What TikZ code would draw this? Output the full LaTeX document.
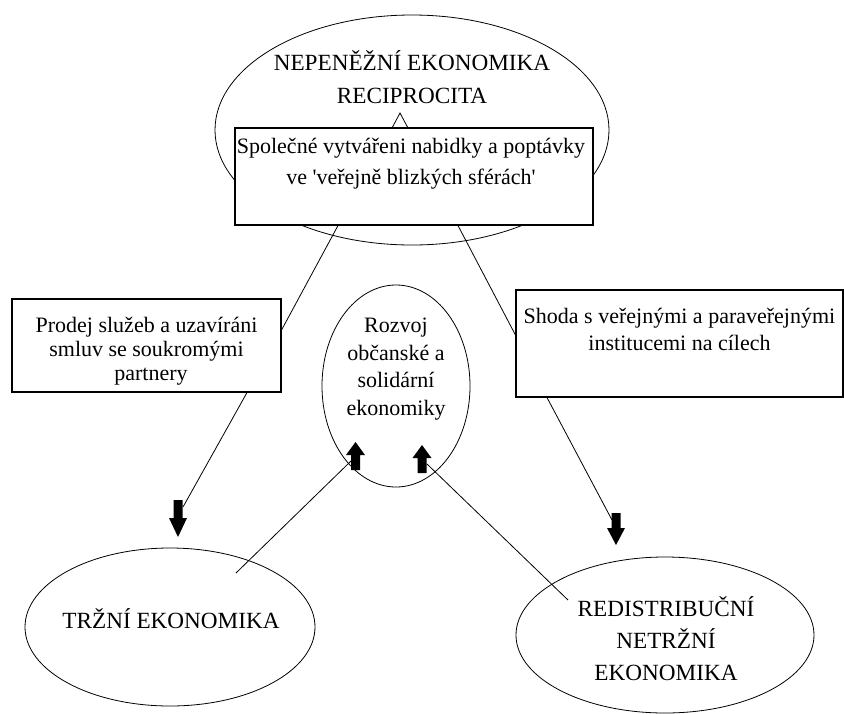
\documentclass[tikz,border=0pt]{standalone}
\usepackage{fontspec}
\setmainfont{Liberation Serif}
\usetikzlibrary{shapes.geometric}
\begin{document}
\begin{tikzpicture}[x=1pt, y=-1pt, line width=0.8pt,
    oval/.style={draw, ellipse, inner sep=0pt},
    box/.style={draw, rectangle, fill=white, line width=1.1pt, inner sep=0pt},
    txt/.style={align=center, inner sep=0pt, font=\fontsize{22}{#1}\selectfont},
    txt/.default=27,
    caps/.style={align=center, inner sep=0pt, font=\fontsize{23.2}{#1}\selectfont},
    caps/.default=27]
  \useasboundingbox (0,0) rectangle (844,713);

  \node[oval, minimum width=394pt, minimum height=230pt] (nepen) at (412,130) {};
  \node[caps=33] (nepentxt) at (412,77) {NEPENĚŽNÍ EKONOMIKA\\RECIPROCITA};
  \draw (392,128) -- (400,113) -- (408,128);
  \node[box, minimum width=358pt, minimum height=97pt] (spol) at (414,176.5) {};
  \node[txt=31] (spoltxt) at (411,164) {Společné vytvářeni nabidky a poptávky\\ve \textquotesingle veřejně blizkých sférách\textquotesingle};

  \node[box, minimum width=269pt, minimum height=93pt] (prodej) at (146.5,345.5) {};
  \node[txt=24] (prodejtxt) at (146.5,351) {Prodej služeb a uzavíráni\\smluv se soukromými\hspace*{28pt}\\\hspace*{9pt}partnery};

  \node[box, minimum width=327pt, minimum height=107pt] (shoda) at (679.5,343.5) {};
  \node[txt=27] (shodatxt) at (679.5,329) {Shoda s veřejnými a paraveřejnými\\institucemi na cílech};

  \node[oval, minimum width=148pt, minimum height=202pt] (rozvoj) at (396,386) {};
  \node[txt=27.5] (rozvojtxt) at (396,369) {Rozvoj\\občanské a\\solidární\\ekonomiky};

  \node[oval, minimum width=290pt, minimum height=158pt] (trzni) at (170,627) {};
  \node[caps] (trznitxt) at (171,619) {TRŽNÍ EKONOMIKA};

  \node[oval, minimum width=298pt, minimum height=156pt] (redis) at (665,635) {};
  \node[caps=32] (redistxt) at (666,639) {REDISTRIBUČNÍ\\NETRŽNÍ\\EKONOMIKA};

  \coordinate (dnl) at (178,500);
  \coordinate (dnr) at (616,513);
  \coordinate (upl) at (355.5,470);
  \coordinate (upr) at (422,473);
  \fill (dnl) ++(-4.5,0) -- ++(0,18) -- ++(-4.5,0) -- ++(9,19) -- ++(9,-19)
    -- ++(-4.5,0) -- ++(0,-18) -- cycle;
  \fill (dnr) ++(-4.5,0) -- ++(0,15) -- ++(-4.5,0) -- ++(9,17) -- ++(9,-17)
    -- ++(-4.5,0) -- ++(0,-15) -- cycle;
  \fill (upl) ++(-4.5,0) -- ++(0,-15) -- ++(-5,0) -- ++(9.5,-13) -- ++(9.5,13)
    -- ++(-5,0) -- ++(0,15) -- cycle;
  \fill (upr) ++(-4.5,0) -- ++(0,-15) -- ++(-5,0) -- ++(9.5,-13) -- ++(9.5,13)
    -- ++(-5,0) -- ++(0,15) -- cycle;

  \coordinate (dnlend) at (183,507);
  \coordinate (dnrend) at (612,520);
  \coordinate (uplend) at (351,461);
  \coordinate (uprend) at (427,464);
  \coordinate (trzniend) at (236,573);
  \coordinate (redisend) at (568,600);

  \draw ([xshift=-76pt]spol.south) -- ([yshift=15.5pt]prodej.east);
  \draw ([xshift=44pt]spol.south) -- ([yshift=8.5pt]shoda.west);
  \draw ([xshift=100.5pt]prodej.south) -- (dnlend);
  \draw ([xshift=-132.5pt]shoda.south) -- (dnrend);
  \draw (trzniend) -- (uplend);
  \draw (redisend) -- (uprend);
\end{tikzpicture}
\end{document}
